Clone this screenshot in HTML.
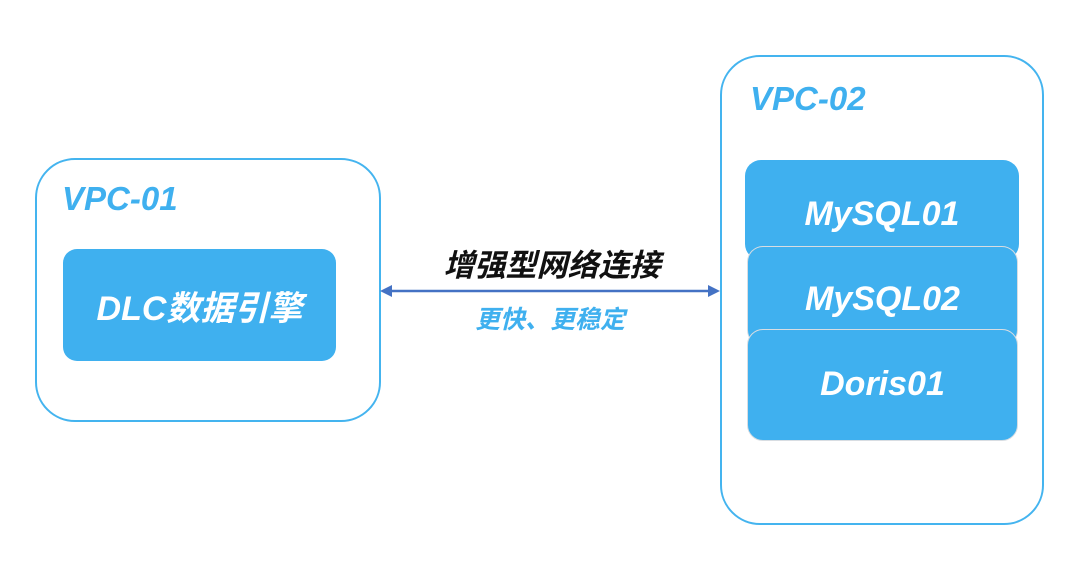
<!DOCTYPE html>
<html><head><meta charset="utf-8"><style>
body{margin:0;width:1080px;height:583px;background:#fff;position:relative;overflow:hidden;font-family:"Liberation Sans","Noto Sans CJK SC",sans-serif}
.v{position:absolute;border:2px solid #44b4ef;border-radius:40px;box-sizing:border-box}
.t{position:absolute;font-style:italic;font-weight:bold;color:#3fb0ef;font-size:33px}
.b{position:absolute;background:#3fb0ef;border-radius:16px;color:#fff;font-style:italic;font-weight:bold;font-size:34px;display:flex;justify-content:center;box-sizing:border-box}
</style></head><body>
<div class="v" style="left:35px;top:158px;width:346px;height:264px"></div>
<div class="t" style="left:62px;top:180px">VPC-01</div>
<div class="b" style="left:63px;top:249px;width:273px;height:112px;align-items:center;border-radius:14px">DLC数据引擎</div>
<div class="v" style="left:720px;top:55px;width:324px;height:470px"></div>
<div class="t" style="left:750px;top:80px">VPC-02</div>
<div class="b" style="left:745px;top:160px;width:274px;height:100px;padding-top:35px">MySQL01</div>
<div class="b" style="left:747px;top:246px;width:271px;height:100px;padding-top:33px;border:1.5px solid #d8dde2;border-bottom:none">MySQL02</div>
<div class="b" style="left:747px;top:329px;width:271px;height:112px;padding-top:35px;border:1.5px solid #d8dde2">Doris01</div>
<div style="position:absolute;left:382px;width:340px;top:240px;text-align:center;font-size:31px;font-weight:bold;font-style:italic;color:#111">增强型网络连接</div>
<svg style="position:absolute;left:0;top:0" width="1080" height="583">
<line x1="388" y1="291" x2="712" y2="291" stroke="#4472c4" stroke-width="2.5"/>
<polygon points="380,291 392,285 392,297" fill="#4472c4"/>
<polygon points="720,291 708,285 708,297" fill="#4472c4"/>
</svg>
<div style="position:absolute;left:380px;width:340px;top:300px;text-align:center;font-size:25px;font-weight:bold;font-style:italic;color:#3fb0ef">更快、更稳定</div>
</body></html>
